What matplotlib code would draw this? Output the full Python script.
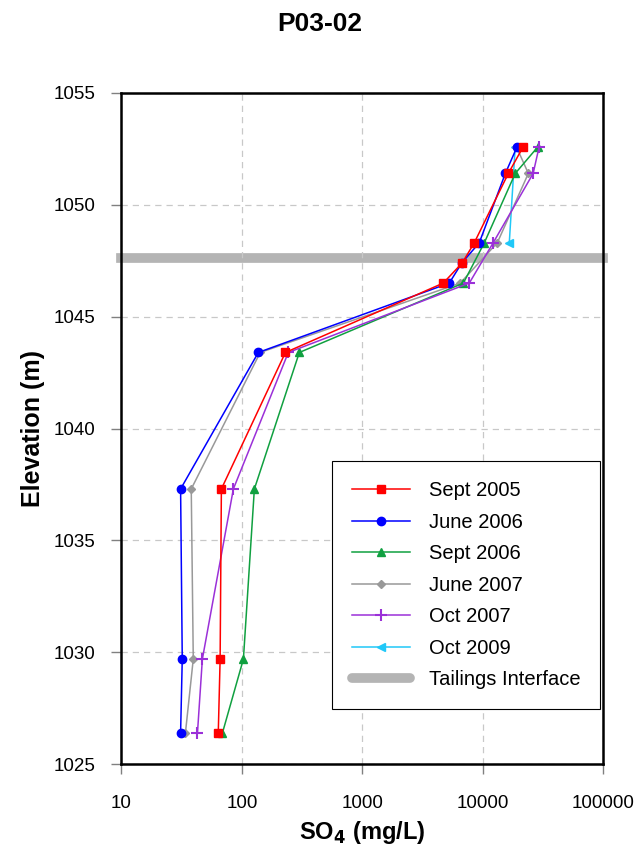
import matplotlib.pyplot as plt
from matplotlib.ticker import FixedLocator, FixedFormatter, NullLocator

plt.rcParams['font.family'] = ['Liberation Sans', 'DejaVu Sans']

elev = [1052.6, 1051.4, 1048.3, 1047.4, 1046.5, 1043.4, 1037.3, 1029.7, 1026.4]
elev_no_mid = [1052.6, 1051.4, 1048.3, 1046.5, 1043.4, 1037.3, 1029.7, 1026.4]

sept_2005 = [21700, 16300, 8500, 6750, 4700, 230, 67.6, 66, 63.7]
june_2006 = [19300, 15400, 9350, 6700, 5270, 137, 31, 32, 31]
sept_2006 = [28800, 18600, 10300, 6900, 300, 127, 103, 69]
june_2007 = [19000, 23900, 13200, 6500, 142, 38, 39.5, 34]
oct_2007 = [29400, 26200, 12200, 7730, 243, 85, 47, 42.8]
oct_2009_elev = [1052.6, 1048.3]
oct_2009 = [18600, 16600]
tailings_interface = 1047.6

fig = plt.figure(figsize=(6.39, 8.52), dpi=100)
ax = fig.add_axes([0.190, 0.103, 0.754, 0.788])

ax.axhline(tailings_interface, color='#b4b4b4', lw=7, zorder=1, clip_on=False,
           solid_capstyle='projecting', label='Tailings Interface')
ax.plot(sept_2005, elev, color='red', marker='s', ms=6, lw=1.1, label='Sept 2005', zorder=6)
ax.plot(june_2006, elev, color='blue', marker='o', ms=6, lw=1.1, label='June 2006', zorder=5)
ax.plot(sept_2006, elev_no_mid, color='#10a040', marker='^', ms=6, lw=1.1, label='Sept 2006', zorder=4)
ax.plot(june_2007, elev_no_mid, color='#999999', marker='D', ms=4, lw=1.1, label='June 2007', zorder=3)
ax.plot(oct_2007, elev_no_mid, color='#9b30d8', marker='+', ms=8, mew=1.5, lw=1.1, label='Oct 2007', zorder=4)
ax.plot(oct_2009, oct_2009_elev, color='#20c8f8', marker='<', ms=6, lw=1.1, label='Oct 2009', zorder=2)

ax.set_xscale('log')
ax.set_xlim(10, 100000)
ax.set_ylim(1025, 1055)
xt = [10, 100, 1000, 10000, 100000]
ax.xaxis.set_major_locator(FixedLocator(xt))
ax.xaxis.set_major_formatter(FixedFormatter([str(v) for v in xt]))
ax.xaxis.set_minor_locator(NullLocator())
ax.set_yticks(range(1025, 1056, 5))
ax.tick_params(axis='both', labelsize=13.5, direction='out', length=7, width=1, color='#808080')
ax.tick_params(axis='x', pad=15)
ax.tick_params(axis='y', pad=12)
ax.grid(True, color='#c8c8c8', linestyle=(0, (5, 4)), lw=0.9)
for s in ax.spines.values():
    s.set_linewidth(1.8)

ax.set_xlabel('SO$_\\mathbf{4}$ (mg/L)', fontsize=17, fontweight='bold', labelpad=5)
ax.set_ylabel('Elevation (m)', fontsize=18, fontweight='bold', labelpad=6)
fig.text(0.5, 0.972, 'P03-02', fontsize=19, fontweight='bold', ha='center', va='center')

handles, labels = ax.get_legend_handles_labels()
order = [1, 2, 3, 4, 5, 6, 0]
leg = ax.legend([handles[i] for i in order], [labels[i] for i in order],
                loc='lower right', bbox_to_anchor=(0.994, 0.082), borderaxespad=0,
                fontsize=14.5, frameon=True, fancybox=False, edgecolor='black', framealpha=1,
                handlelength=2.9, labelspacing=0.62, borderpad=1.0, handletextpad=0.9)
leg.get_frame().set_linewidth(0.8)
leg.legend_handles[6].set_solid_capstyle('round')
leg.legend_handles[6].set_linewidth(7)

fig.savefig('out.png', dpi=100)
